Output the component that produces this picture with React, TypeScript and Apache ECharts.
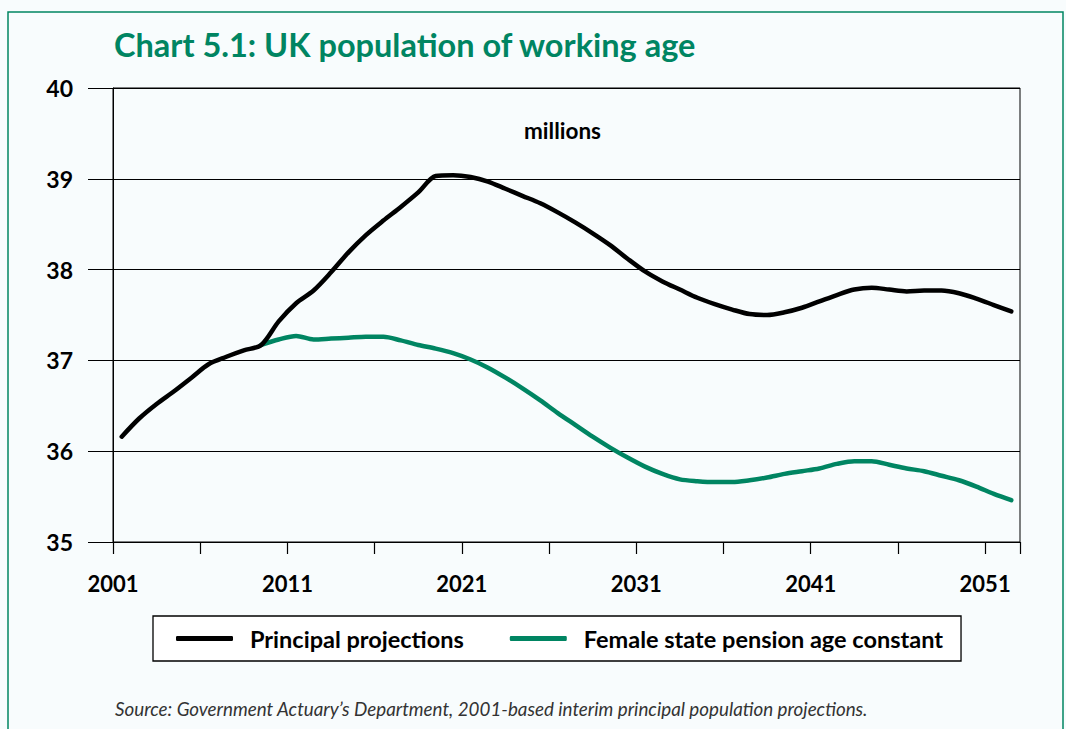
import React, { useEffect, useRef } from "react";
import * as echarts from "echarts";

const TITLE = "Chart 5.1: UK population of working age";
const UNIT = "millions";
const SOURCE =
  "Source: Government Actuary\u2019s Department, 2001-based interim principal population projections.";
const SERIES_NAMES = ["Principal projections", "Female state pension age constant"];

const BASE_YEAR = 2001;
const years = [
  2001, 2002, 2003, 2004, 2005, 2006, 2007, 2008, 2009, 2010,
  2011, 2012, 2013, 2014, 2015, 2016, 2017, 2018, 2019, 2020,
  2021, 2022, 2023, 2024, 2025, 2026, 2027, 2028, 2029, 2030,
  2031, 2032, 2033, 2034, 2035, 2036, 2037, 2038, 2039, 2040,
  2041, 2042, 2043, 2044, 2045, 2046, 2047, 2048, 2049, 2050,
  2051, 2052,
];

const principal = [
  36.16, 36.36, 36.52, 36.66, 36.81, 36.96, 37.04, 37.11, 37.17, 37.43,
  37.63, 37.77, 37.97, 38.19, 38.38, 38.54, 38.69, 38.85, 39.03, 39.04,
  39.02, 38.97, 38.89, 38.81, 38.73, 38.63, 38.52, 38.40, 38.27, 38.12,
  37.98, 37.87, 37.78, 37.69, 37.62, 37.56, 37.51, 37.50, 37.53, 37.58,
  37.65, 37.72, 37.78, 37.80, 37.78, 37.76, 37.77, 37.77, 37.74, 37.68,
  37.61, 37.54,
];

const femaleConstant = [
  null, null, null, null, null, null, null, null, 37.17, 37.23,
  37.27, 37.23, 37.24, 37.25, 37.26, 37.26, 37.22, 37.17, 37.13, 37.08,
  37.01, 36.92, 36.81, 36.69, 36.56, 36.42, 36.29, 36.16, 36.04, 35.93,
  35.83, 35.75, 35.69, 35.67, 35.66, 35.66, 35.68, 35.71, 35.75, 35.78,
  35.81, 35.86, 35.89, 35.89, 35.85, 35.81, 35.78, 35.73, 35.68, 35.61,
  35.53, 35.46,
];

const yTicks = [35, 36, 37, 38, 39, 40];

const GREEN = "#008562";
const FONT = "Lato, 'Noto Sans', sans-serif";

export default function App() {
  const ref = useRef<HTMLDivElement>(null);

  useEffect(() => {
    if (!ref.current) return;
    const chart = echarts.init(ref.current, null, { renderer: "svg" });

    // x is measured in years since the base year; points sit at mid-year
    const toPairs = (vals: (number | null)[]) =>
      years.map((y, i) => [y - BASE_YEAR + 0.5, vals[i]]);

    const option = {
      animation: false,
      backgroundColor: "#f8fcfd",
      title: {
        text: TITLE,
        left: 109,
        top: 23,
        textStyle: {
          color: GREEN,
          fontFamily: FONT,
          fontWeight: "bold",
          fontSize: 32.5,
        },
      },
      legend: {
        left: 153,
        top: 616,
        orient: "horizontal",
        data: SERIES_NAMES,
        icon: "roundRect",
        itemWidth: 57,
        itemHeight: 5,
        itemGap: 46,
        padding: [10, 18, 10, 23],
        borderColor: "#000",
        borderWidth: 1.3,
        backgroundColor: "#fff",
        selectedMode: false,
        textStyle: {
          fontFamily: FONT,
          fontWeight: "bold",
          fontSize: 23.5,
          lineHeight: 25,
          color: "#000",
          padding: [0, 0, 0, 12],
        },
      },
      grid: {
        left: 113,
        right: 46,
        top: 88,
        bottom: 187,
        show: true,
        borderColor: "#000",
        borderWidth: 1,
        backgroundColor: "transparent",
      },
      xAxis: {
        type: "value",
        min: 0,
        max: 52,
        interval: 5,
        axisLine: { show: true, lineStyle: { color: "#000", width: 1 } },
        axisTick: {
          show: true,
          inside: false,
          length: 12,
          lineStyle: { color: "#000", width: 1.2 },
        },
        splitLine: { show: false },
        axisLabel: {
          margin: 30,
          fontFamily: FONT,
          fontWeight: "bold",
          fontSize: 22,
          color: "#000",
          showMinLabel: true,
          formatter: (v: number) => (v % 10 === 0 ? String(BASE_YEAR + v) : ""),
        },
      },
      yAxis: {
        type: "value",
        min: yTicks[0],
        max: yTicks[yTicks.length - 1],
        interval: 1,
        axisLine: { show: true, lineStyle: { color: "#000", width: 1 } },
        axisTick: {
          show: true,
          inside: false,
          length: 25,
          lineStyle: { color: "#000", width: 1 },
        },
        splitLine: { show: true, lineStyle: { color: "#000", width: 1 } },
        axisLabel: {
          margin: 40,
          fontFamily: FONT,
          fontWeight: "bold",
          fontSize: 23,
          color: "#000",
        },
      },
      graphic: [
        {
          type: "rect",
          silent: true,
          shape: { x: 8, y: 12, width: 1055, height: 740 },
          style: { fill: "none", stroke: GREEN, lineWidth: 1.5 },
          z: -1,
        },
        {
          type: "text",
          left: 524,
          top: 119,
          style: {
            text: UNIT,
            fontFamily: FONT,
            fontWeight: "bold",
            fontSize: 22.5,
            fill: "#000",
          },
        },
        {
          type: "text",
          left: 115,
          top: 699,
          style: {
            text: SOURCE,
            fontFamily: FONT,
            fontStyle: "italic",
            fontSize: 18.8,
            fill: "#333",
          },
        },
      ],
      series: [
        {
          name: SERIES_NAMES[0],
          type: "line",
          data: toPairs(principal),
          showSymbol: false,
          symbol: "none",
          smooth: 0.3,
          z: 4,
          lineStyle: { color: "#000", width: 4.5, cap: "round", join: "round" },
          itemStyle: { color: "#000" },
        },
        {
          name: SERIES_NAMES[1],
          type: "line",
          data: toPairs(femaleConstant),
          showSymbol: false,
          symbol: "none",
          smooth: 0.3,
          z: 3,
          lineStyle: { color: GREEN, width: 4.5, cap: "round", join: "round" },
          itemStyle: { color: GREEN },
        },
      ],
    };

    chart.setOption(option as any);
    return () => chart.dispose();
  }, []);

  return (
    <div
      ref={ref}
      style={{ position: "fixed", left: 0, top: 0, width: 1066, height: 729 }}
    />
  );
}
